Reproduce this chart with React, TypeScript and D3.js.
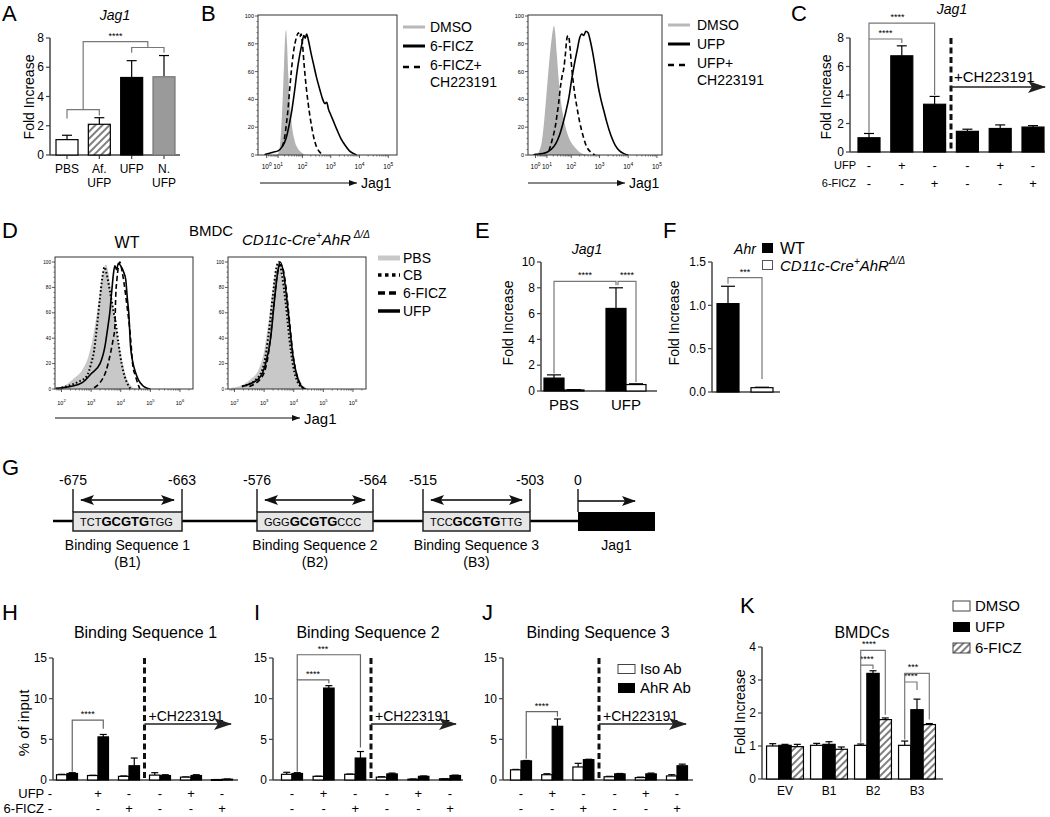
import React from 'react';
import * as d3 from 'd3';

const FONT = '"Liberation Sans", Arial, Helvetica, sans-serif';
const AX = '#444';
const BR = '#777';

// ---------- A: Jag1 fold increase ----------
const aGroups = ['PBS', 'Af. UFP', 'UFP', 'N. UFP'];
const aMean = [1.05, 2.1, 5.3, 5.35];
const aErr = [0.3, 0.45, 1.15, 1.45];
const aFill = ['#fff', 'url(#hatch)', '#000', '#9a9a9a'];

// ---------- B: flow histograms [log10 Jag1, % max] ----------
const bDmsoL = [[0.9, 0], [1.0, 1], [1.08, 5], [1.15, 18], [1.22, 40], [1.28, 65], [1.33, 85], [1.37, 90], [1.41, 80], [1.46, 58], [1.52, 38], [1.6, 22], [1.7, 11], [1.82, 5], [1.95, 2], [2.1, 0]];
const bFiczL = [[-1, 0], [-0.2, 0.5], [0.3, 1], [0.7, 2], [1.0, 3], [1.2, 6], [1.37, 12], [1.5, 22], [1.6, 32], [1.7, 45], [1.8, 60], [1.9, 72], [1.98, 80], [2.05, 86], [2.1, 84], [2.15, 87], [2.22, 82], [2.3, 74], [2.4, 65], [2.5, 56], [2.62, 47], [2.72, 40], [2.8, 37], [2.86, 38], [2.92, 33], [3.0, 29], [3.1, 24], [3.2, 19], [3.35, 12], [3.5, 7], [3.65, 3], [3.8, 1], [3.9, 0]];
const bFiczChL = [[1.2, 6], [1.3, 12], [1.38, 22], [1.45, 33], [1.52, 48], [1.58, 60], [1.65, 72], [1.72, 80], [1.8, 86], [1.85, 88], [1.9, 85], [1.95, 87], [2.0, 80], [2.06, 65], [2.12, 52], [2.2, 38], [2.3, 24], [2.4, 13], [2.5, 6], [2.62, 2], [2.75, 0]];
const bDmsoR = [[0.3, 0], [0.5, 3], [0.7, 10], [0.85, 25], [1.0, 48], [1.1, 65], [1.2, 80], [1.28, 90], [1.33, 93], [1.38, 88], [1.45, 72], [1.52, 55], [1.6, 40], [1.7, 28], [1.8, 19], [1.9, 13], [2.0, 9], [2.15, 5], [2.3, 2], [2.5, 0.5], [2.65, 0]];
const bUfpR = [[-1, 0], [0.0, 0.5], [0.7, 1], [1.0, 2], [1.2, 4], [1.4, 8], [1.55, 14], [1.68, 22], [1.8, 31], [1.92, 42], [2.02, 55], [2.12, 66], [2.22, 76], [2.3, 84], [2.38, 87], [2.45, 86], [2.52, 89], [2.6, 88], [2.68, 82], [2.76, 74], [2.85, 63], [2.95, 50], [3.05, 40], [3.15, 32], [3.25, 24], [3.4, 14], [3.55, 7], [3.7, 3], [3.85, 1], [4.0, 0]];
const bUfpChR = [[1.1, 3], [1.2, 8], [1.3, 14], [1.38, 20], [1.45, 28], [1.52, 37], [1.6, 50], [1.66, 57], [1.72, 62], [1.78, 72], [1.84, 84], [1.88, 86], [1.92, 84], [1.96, 76], [2.02, 62], [2.1, 48], [2.2, 35], [2.3, 24], [2.42, 14], [2.55, 6], [2.7, 2], [2.85, 0]];
const bExps = [0, 1, 2, 3, 4, 5];

// ---------- C ----------
const cUfp = ['-', '+', '-', '-', '+', '-'];
const cFicz = ['-', '-', '+', '-', '-', '+'];
const cMean = [1.0, 6.75, 3.35, 1.45, 1.65, 1.75];
const cErr = [0.3, 0.7, 0.55, 0.15, 0.25, 0.1];

// ---------- D: BMDC histograms ----------
const dWtPbs = [[1.8, 1], [2.2, 4], [2.4, 8], [2.7, 15], [2.9, 25], [3.07, 42], [3.23, 65], [3.33, 82], [3.43, 95], [3.5, 98], [3.58, 92], [3.68, 75], [3.78, 58], [3.88, 42], [3.98, 30], [4.08, 19], [4.18, 10], [4.3, 4], [4.42, 1], [4.55, 0]];
const dWtCb = [[2.0, 1], [2.3, 3], [2.6, 6], [2.85, 10], [3.0, 20], [3.1, 30], [3.2, 50], [3.3, 72], [3.38, 88], [3.45, 96], [3.53, 90], [3.65, 75], [3.75, 62], [3.83, 52], [3.93, 35], [4.03, 20], [4.13, 10], [4.23, 4], [4.33, 0]];
const dWtUfp = [[1.8, 0.5], [2.3, 2], [2.7, 5], [3.0, 12], [3.3, 20], [3.47, 34], [3.56, 48], [3.63, 60], [3.7, 78], [3.75, 90], [3.8, 97], [3.86, 94], [3.92, 99], [4.0, 97], [4.1, 92], [4.17, 86], [4.22, 72], [4.27, 60], [4.33, 34], [4.4, 22], [4.5, 13], [4.6, 7], [4.73, 3], [4.85, 1], [5.0, 0]];
const dWtFicz = [[3.1, 1], [3.3, 5], [3.5, 14], [3.67, 30], [3.75, 40], [3.8, 48], [3.83, 73], [3.87, 86], [3.92, 96], [3.97, 100], [4.05, 92], [4.12, 82], [4.17, 73], [4.24, 60], [4.3, 48], [4.36, 32], [4.4, 20], [4.5, 10], [4.58, 4], [4.65, 0]];
const dKoPbs = [[1.9, 1], [2.25, 3], [2.56, 8], [2.81, 15], [3.0, 30], [3.16, 55], [3.27, 75], [3.38, 92], [3.49, 100], [3.6, 92], [3.74, 70], [3.85, 50], [3.96, 30], [4.09, 15], [4.25, 5], [4.41, 1], [4.52, 0]];
const dKoCb = [[2.25, 2], [2.75, 8], [3.0, 20], [3.16, 45], [3.3, 75], [3.41, 95], [3.5, 100], [3.6, 90], [3.74, 65], [3.85, 40], [3.98, 18], [4.14, 5], [4.3, 1], [4.41, 0]];
const dKoUfp = [[2.25, 2], [2.81, 8], [3.05, 20], [3.22, 40], [3.35, 70], [3.46, 92], [3.54, 100], [3.65, 92], [3.76, 72], [3.87, 48], [3.98, 25], [4.14, 8], [4.3, 1], [4.41, 0]];
const dKoFicz = [[2.5, 2], [2.94, 10], [3.16, 30], [3.3, 60], [3.43, 88], [3.54, 98], [3.63, 95], [3.74, 80], [3.85, 55], [3.96, 30], [4.09, 12], [4.25, 3], [4.36, 0]];
const dExps = [2, 3, 4, 5, 6];

// ---------- E / F ----------
const eGroups = ['PBS', 'UFP'];
const eWt = [1.0, 6.4];
const eWtErr = [0.25, 1.6];
const eKo = [0.08, 0.5];
const eKoErr = [0.03, 0.06];
const fGroups = ['WT', 'KO'];
const fMean = [1.02, 0.05];
const fErr = [0.2, 0.005];

// ---------- G ----------
const gNames = ['Binding Sequence 1', 'Binding Sequence 2', 'Binding Sequence 3'];
const gTags = ['(B1)', '(B2)', '(B3)'];
const gStart = ['-675', '-576', '-515'];
const gEnd = ['-663', '-564', '-503'];
const gSeq = [['TCT', 'GCGTG', 'TGG'], ['GGG', 'GCGTG', 'CCC'], ['TCC', 'GCGTG', 'TTG']];

// ---------- H / I / J: ChIP, % of input ----------
const hIso = [0.65, 0.55, 0.45, 0.6, 0.35, 0.05];
const hIsoErr = [0.05, 0.03, 0.05, 0.3, 0.03, 0.01];
const hAhr = [0.8, 5.3, 1.75, 0.55, 0.55, 0.1];
const hAhrErr = [0.1, 0.3, 0.95, 0.1, 0.1, 0.02];
const iIso = [0.7, 0.45, 0.7, 0.35, 0.1, 0.15];
const iIsoErr = [0.25, 0.02, 0.03, 0.05, 0.02, 0.02];
const iAhr = [0.8, 11.3, 2.7, 0.75, 0.45, 0.55];
const iAhrErr = [0.1, 0.3, 0.8, 0.1, 0.05, 0.05];
const jIso = [1.25, 0.65, 1.6, 0.4, 0.3, 0.5];
const jIsoErr = [0.05, 0.12, 0.45, 0.05, 0.05, 0.15];
const jAhr = [2.35, 6.6, 2.5, 0.75, 0.75, 1.75];
const jAhrErr = [0.05, 0.9, 0.05, 0.05, 0.1, 0.2];

// ---------- K ----------
const kGroups = ['EV', 'B1', 'B2', 'B3'];
const kDmso = [1.0, 1.02, 1.02, 1.02];
const kDmsoErr = [0.07, 0.06, 0.04, 0.13];
const kUfp = [1.02, 1.05, 3.2, 2.1];
const kUfpErr = [0.03, 0.08, 0.08, 0.32];
const kFicz = [0.98, 0.9, 1.8, 1.65];
const kFiczErr = [0.07, 0.07, 0.05, 0.03];

// ---------- helpers ----------
function Defs() {
  return (
    <defs>
      <pattern id="hatch" patternUnits="userSpaceOnUse" width={5} height={5} patternTransform="rotate(45)">
        <rect width={5} height={5} fill="#fff" />
        <line x1={1} y1={0} x2={1} y2={5} stroke="#000" strokeWidth={1} />
      </pattern>
      <marker id="bigArrow" markerUnits="userSpaceOnUse" markerWidth={18} markerHeight={12} viewBox="0 0 18 12" refX={17} refY={6} orient="auto">
        <path d="M0,0 L18,6 L0,12 L4,6 Z" fill="#222" />
      </marker>
      <marker id="gArrow" markerUnits="userSpaceOnUse" markerWidth={14} markerHeight={10} viewBox="0 0 14 10" refX={13} refY={5} orient="auto-start-reverse">
        <path d="M0,0 L14,5 L0,10 L3,5 Z" fill="#111" />
      </marker>
      <marker id="smallArrow" markerUnits="userSpaceOnUse" markerWidth={8} markerHeight={6} viewBox="0 0 8 6" refX={8} refY={3} orient="auto">
        <path d="M0,0 L8,3 L0,6 Z" fill="#111" />
      </marker>
    </defs>
  );
}

function LeftAxis({ x, y, ticks, fs = 12, fmt = (t) => String(t), len = 4, color = AX }) {
  const [d0, d1] = y.domain();
  return (
    <g>
      <line x1={x} x2={x} y1={y(d0)} y2={y(d1)} stroke={color} strokeWidth={1.5} />
      {ticks.map((t) => (
        <g key={t}>
          <line x1={x - len} x2={x} y1={y(t)} y2={y(t)} stroke={color} strokeWidth={1.2} />
          <text x={x - len - 2} y={y(t)} dy="0.35em" textAnchor="end" fontSize={fs}>{fmt(t)}</text>
        </g>
      ))}
    </g>
  );
}

function BarErr({ cx, w, y, v, e, fill, cap, stroke = '#000' }) {
  const top = y(v);
  const base = y(0);
  const et = y(v + e);
  return (
    <g>
      {e > 0 && (
        <g stroke="#000" strokeWidth={1.2}>
          <line x1={cx} x2={cx} y1={top} y2={et} />
          <line x1={cx - cap / 2} x2={cx + cap / 2} y1={et} y2={et} />
        </g>
      )}
      <rect x={cx - w / 2} y={top} width={w} height={Math.max(0.8, base - top)} fill={fill} stroke={stroke} strokeWidth={1.2} />
    </g>
  );
}

function Bracket({ x1, x2, yl, ylev, yr, stars, sx, color = BR, fs = 9 }) {
  return (
    <g>
      <path d={`M${x1},${yl}V${ylev}H${x2}V${yr}`} fill="none" stroke={color} strokeWidth={1.2} />
      {stars && (
        <text x={sx ?? (x1 + x2) / 2} y={ylev - 3} textAnchor="middle" fontSize={fs}>{stars}</text>
      )}
    </g>
  );
}

function Pow({ x, y, e, fs }) {
  return (
    <text x={x} y={y} fontSize={fs} textAnchor="middle">
      10<tspan dy={-fs * 0.5} fontSize={fs * 0.75}>{e}</tspan>
    </text>
  );
}

function Histo({ id, x, y, top, curves, exps, fs, labelY }) {
  const [left, right] = x.range();
  const bottom = y.range()[0];
  const px = (d) => x(10 ** d[0]);
  const line = d3.line().x(px).y((d) => y(d[1])).curve(d3.curveMonotoneX);
  const area = d3.area().x(px).y0(bottom).y1((d) => y(d[1])).curve(d3.curveMonotoneX);
  const [dmin, dmax] = x.domain();
  const minors = [];
  exps.forEach((e) => {
    for (let k = 2; k <= 9; k++) {
      const v = k * 10 ** e;
      if (v > dmin && v < dmax) minors.push(v);
    }
  });
  if (exps[0] > 0) {
    for (let k = 2; k <= 9; k++) {
      const v = k * 10 ** (exps[0] - 1);
      if (v > dmin) minors.push(v);
    }
  }
  const yMajor = d3.range(0, 101, 20);
  const yMinor = d3.range(0, 101, 4).filter((v) => v % 20 !== 0);
  return (
    <g>
      <clipPath id={id}>
        <rect x={left} y={top} width={right - left} height={bottom - top} />
      </clipPath>
      <g clipPath={`url(#${id})`}>
        {curves.map((c, i) =>
          c.fill ? (
            <path key={i} d={area(c.data)} fill={c.fill} stroke="none" />
          ) : (
            <path key={i} d={line(c.data)} fill="none" stroke="#000" strokeWidth={c.w} strokeDasharray={c.dash} />
          )
        )}
      </g>
      <rect x={left} y={top} width={right - left} height={bottom - top} fill="none" stroke="#333" strokeWidth={1} />
      {exps.map((e) => (
        <g key={e}>
          <line x1={x(10 ** e)} x2={x(10 ** e)} y1={bottom} y2={bottom + 3} stroke="#333" strokeWidth={0.8} />
          <Pow x={x(10 ** e)} y={labelY} e={e} fs={fs} />
        </g>
      ))}
      {minors.map((v) => (
        <line key={v} x1={x(v)} x2={x(v)} y1={bottom} y2={bottom + 1.6} stroke="#333" strokeWidth={0.6} />
      ))}
      {yMajor.map((v) => (
        <g key={v}>
          <line x1={left - 3} x2={left} y1={y(v)} y2={y(v)} stroke="#333" strokeWidth={0.8} />
          <text x={left - 4} y={y(v)} dy="0.35em" fontSize={fs * 0.85} textAnchor="end">{v}</text>
        </g>
      ))}
      {yMinor.map((v) => (
        <line key={v} x1={left - 1.6} x2={left} y1={y(v)} y2={y(v)} stroke="#333" strokeWidth={0.6} />
      ))}
    </g>
  );
}

function LineLegend({ x, rows, fs = 14, tx }) {
  return (
    <g>
      {rows.map((r, i) => (
        <g key={i}>
          {r.sw && (
            <line x1={x} x2={x + 22} y1={r.y} y2={r.y} stroke={r.color || '#000'} strokeWidth={r.w} strokeDasharray={r.dash} />
          )}
          <text x={tx} y={r.ty ?? r.y + 5} fontSize={fs}>{r.label}</text>
        </g>
      ))}
    </g>
  );
}

// ---------- panels ----------
function PanelA() {
  const x = d3.scalePoint().domain(aGroups).range([67, 164]);
  const y = d3.scaleLinear().domain([0, 8]).range([155, 38]);
  const cx = (i) => x(aGroups[i]);
  const m01 = (cx(0) + cx(1)) / 2;
  const m23 = (cx(2) + cx(3)) / 2;
  return (
    <g>
      <text x={2} y={21} fontSize={22}>A</text>
      <text x={115} y={20} fontSize={14} fontStyle="italic" textAnchor="middle">Jag1</text>
      <text transform="translate(34,97) rotate(-90)" textAnchor="middle" fontSize={14}>Fold Increase</text>
      <LeftAxis x={50} y={y} ticks={[0, 2, 4, 6, 8]} fs={12} />
      <line x1={50} x2={180} y1={y(0)} y2={y(0)} stroke={AX} strokeWidth={1.5} />
      {aGroups.map((g, i) => (
        <g key={g}>
          <line x1={cx(i)} x2={cx(i)} y1={y(0)} y2={y(0) + 4} stroke={AX} strokeWidth={1.2} />
          <BarErr cx={cx(i)} w={22} y={y} v={aMean[i]} e={aErr[i]} fill={aFill[i]} cap={10} stroke={i === 3 ? '#777' : '#000'} />
          {g.split(' ').map((t, k) => (
            <text key={k} x={cx(i)} y={173 + k * 14} textAnchor="middle" fontSize={12}>{t}</text>
          ))}
        </g>
      ))}
      <Bracket x1={cx(0)} x2={cx(1)} yl={y(2.5)} ylev={y(3.1)} yr={y(2.7)} />
      <Bracket x1={m01} x2={m23} yl={y(3.1)} ylev={y(7.75)} yr={y(7.35)} stars="****" />
      <Bracket x1={cx(2)} x2={cx(3)} yl={y(7.0)} ylev={y(7.35)} yr={y(7.0)} />
    </g>
  );
}

function PanelB() {
  const y = d3.scaleLinear().domain([0, 100]).range([155, 16]);
  const xl = d3.scaleSymlog().constant(5).domain([-3.3, 2e5]).range([258, 397]);
  const xr = d3.scaleSymlog().constant(5).domain([-2.6, 1.5e5]).range([528, 662]);
  const gray = '#b3b3b3';
  return (
    <g>
      <text x={201} y={21} fontSize={22}>B</text>
      <Histo id="cb1" x={xl} y={y} top={15} exps={bExps} fs={6.5} labelY={169}
        curves={[{ data: bDmsoL, fill: gray }, { data: bFiczL, w: 1.6 }, { data: bFiczChL, w: 1.6, dash: '5,3' }]} />
      <Histo id="cb2" x={xr} y={y} top={15} exps={bExps} fs={6.5} labelY={169}
        curves={[{ data: bDmsoR, fill: gray }, { data: bUfpR, w: 1.6 }, { data: bUfpChR, w: 1.6, dash: '5,3' }]} />
      <line x1={260} x2={357} y1={183} y2={183} stroke="#111" strokeWidth={1} markerEnd="url(#smallArrow)" />
      <text x={361} y={188} fontSize={14}>Jag1</text>
      <line x1={528} x2={625} y1={183} y2={183} stroke="#111" strokeWidth={1} markerEnd="url(#smallArrow)" />
      <text x={629} y={188} fontSize={14}>Jag1</text>
      <LineLegend x={403} tx={430} rows={[
        { sw: true, y: 27, color: '#b8b8b8', w: 3, label: 'DMSO' },
        { sw: true, y: 46, w: 3, label: '6-FICZ' },
        { sw: true, y: 67, w: 2.5, dash: '6,5', label: '6-FICZ+', ty: 70 },
        { y: 82, label: 'CH223191', ty: 87 },
      ]} />
      <LineLegend x={668} tx={697} rows={[
        { sw: true, y: 25, color: '#b8b8b8', w: 3, label: 'DMSO' },
        { sw: true, y: 44, w: 3, label: 'UFP' },
        { sw: true, y: 65, w: 2.5, dash: '6,5', label: 'UFP+', ty: 68 },
        { y: 80, label: 'CH223191', ty: 85 },
      ]} />
    </g>
  );
}

function PanelC() {
  const ids = cMean.map((_, i) => i);
  const x = d3.scalePoint().domain(ids).range([869, 1033]);
  const y = d3.scaleLinear().domain([0, 8]).range([152, 38]);
  const dashX = (x(2) + x(3)) / 2;
  return (
    <g>
      <text x={791} y={21} fontSize={22}>C</text>
      <text x={952} y={14} fontSize={14} fontStyle="italic" textAnchor="middle">Jag1</text>
      <text transform="translate(831,97) rotate(-90)" textAnchor="middle" fontSize={14}>Fold Increase</text>
      <LeftAxis x={850} y={y} ticks={[0, 2, 4, 6, 8]} fs={12} />
      <line x1={850} x2={1045} y1={y(0)} y2={y(0)} stroke={AX} strokeWidth={1.5} />
      {ids.map((i) => (
        <g key={i}>
          <BarErr cx={x(i)} w={22} y={y} v={cMean[i]} e={cErr[i]} fill="#000" cap={10} />
          <text x={x(i)} y={170} textAnchor="middle" fontSize={13}>{cUfp[i]}</text>
          <text x={x(i)} y={188} textAnchor="middle" fontSize={13}>{cFicz[i]}</text>
        </g>
      ))}
      <text x={856} y={169} textAnchor="end" fontSize={11}>UFP</text>
      <text x={856} y={187} textAnchor="end" fontSize={11}>6-FICZ</text>
      <line x1={dashX} x2={dashX} y1={y(8)} y2={y(0)} stroke="#111" strokeWidth={3} strokeDasharray="6,3.5" />
      <text x={dashX + 3} y={82} fontSize={15}>+CH223191</text>
      <line x1={dashX} x2={1045} y1={87} y2={87} stroke="#222" strokeWidth={1.5} markerEnd="url(#bigArrow)" />
      <Bracket x1={x(0)} x2={x(1)} yl={y(1.35)} ylev={y(7.93)} yr={y(7.65)} stars="****" />
      <Bracket x1={x(0)} x2={x(2)} yl={y(7.93)} ylev={y(9.05)} yr={y(4.0)} stars="****" sx={(x(0) + x(1)) / 2 + 12} />
    </g>
  );
}

function PanelD() {
  const y = d3.scaleLinear().domain([0, 100]).range([389, 262]);
  const xl = d3.scaleLog().domain([10 ** 1.78, 10 ** 6.44]).range([55, 193]);
  const xr = d3.scaleLog().domain([10 ** 1.78, 10 ** 6.44]).range([228, 366]);
  const gray = '#c8c8c8';
  const dot = '1.6,2.2';
  const dash = '5,3';
  return (
    <g>
      <text x={2} y={238} fontSize={22}>D</text>
      <text x={211} y={236} fontSize={15} textAnchor="middle">BMDC</text>
      <text x={127} y={248} fontSize={16} textAnchor="middle">WT</text>
      <text x={242} y={245} fontSize={15} fontStyle="italic">
        CD11c-Cre<tspan dy={-6} fontSize={10}>+</tspan><tspan dy={6}>AhR</tspan><tspan dy={-7} fontSize={10}> Δ/Δ</tspan>
      </text>
      <Histo id="cd1" x={xl} y={y} top={257} exps={dExps} fs={5.5} labelY={405}
        curves={[{ data: dWtPbs, fill: gray }, { data: dWtCb, w: 2, dash: dot }, { data: dWtFicz, w: 1.6, dash }, { data: dWtUfp, w: 1.6 }]} />
      <Histo id="cd2" x={xr} y={y} top={257} exps={dExps} fs={5.5} labelY={405}
        curves={[{ data: dKoPbs, fill: gray }, { data: dKoCb, w: 2, dash: dot }, { data: dKoFicz, w: 1.6, dash }, { data: dKoUfp, w: 1.6 }]} />
      <line x1={55} x2={300} y1={418} y2={418} stroke="#111" strokeWidth={1} markerEnd="url(#smallArrow)" />
      <text x={304} y={424} fontSize={15}>Jag1</text>
      <LineLegend x={378} tx={403} fs={14} rows={[
        { sw: true, y: 258, color: gray, w: 5, label: 'PBS' },
        { sw: true, y: 275, w: 3.5, dash: '3.5,3.5', label: 'CB' },
        { sw: true, y: 293, w: 3.5, dash: '7,4', label: '6-FICZ' },
        { sw: true, y: 311, w: 3.5, label: 'UFP' },
      ]} />
    </g>
  );
}

function PanelEF() {
  const ye = d3.scaleLinear().domain([0, 10]).range([391, 262]);
  const xe = d3.scalePoint().domain(eGroups).range([564, 626]);
  const yf = d3.scaleLinear().domain([0, 1.5]).range([392, 262]);
  const xf = d3.scalePoint().domain(fGroups).range([728, 762]);
  const wt = (g) => xe(g) - 10;
  const ko = (g) => xe(g) + 10;
  return (
    <g>
      <text x={475} y={238} fontSize={22}>E</text>
      <text x={587} y={254} fontSize={14} fontStyle="italic" textAnchor="middle">Jag1</text>
      <text transform="translate(513,323) rotate(-90)" textAnchor="middle" fontSize={14}>Fold Increase</text>
      <LeftAxis x={541} y={ye} ticks={[0, 2, 4, 6, 8, 10]} fs={12} />
      <line x1={541} x2={657} y1={ye(0)} y2={ye(0)} stroke={AX} strokeWidth={1.5} />
      {eGroups.map((g, i) => (
        <g key={g}>
          <BarErr cx={wt(g)} w={20} y={ye} v={eWt[i]} e={eWtErr[i]} fill="#000" cap={14} />
          <BarErr cx={ko(g)} w={20} y={ye} v={eKo[i]} e={eKoErr[i]} fill="#fff" cap={14} />
          <text x={xe(g)} y={410} textAnchor="middle" fontSize={15}>{g}</text>
        </g>
      ))}
      <Bracket x1={wt('PBS')} x2={wt('UFP')} yl={ye(1.35)} ylev={ye(8.5)} yr={ye(8.2)} stars="****" />
      <Bracket x1={wt('UFP') + 2} x2={ko('UFP')} yl={ye(8.2)} ylev={ye(8.5)} yr={ye(0.7)} stars="****" />

      <text x={663} y={238} fontSize={22}>F</text>
      <text x={745} y={254} fontSize={14} fontStyle="italic" textAnchor="middle">Ahr</text>
      <text transform="translate(679,323) rotate(-90)" textAnchor="middle" fontSize={14}>Fold Increase</text>
      <LeftAxis x={712} y={yf} ticks={[0, 0.5, 1, 1.5]} fmt={(t) => t.toFixed(1)} fs={12} />
      <line x1={712} x2={780} y1={yf(0)} y2={yf(0)} stroke={AX} strokeWidth={1.5} />
      {fGroups.map((g, i) => (
        <BarErr key={g} cx={xf(g)} w={22} y={yf} v={fMean[i]} e={fErr[i]} fill={i === 0 ? '#000' : '#fff'} cap={14} />
      ))}
      <Bracket x1={xf('WT')} x2={xf('KO')} yl={yf(1.25)} ylev={yf(1.32)} yr={yf(0.15)} stars="***" />

      <rect x={762} y={243} width={11} height={10} fill="#000" />
      <text x={780} y={254} fontSize={16}>WT</text>
      <rect x={762.5} y={260.5} width={10} height={9} fill="#fff" stroke="#555" strokeWidth={1} />
      <text x={780} y={271} fontSize={15} fontStyle="italic">
        CD11c-Cre<tspan dy={-6} fontSize={10}>+</tspan><tspan dy={6}>AhR</tspan><tspan dy={-7} fontSize={10}>Δ/Δ</tspan>
      </text>
    </g>
  );
}

function PanelG() {
  const lineY = 521;
  const boxL = d3.scaleOrdinal().domain(gNames).range([73, 257, 423]);
  const boxR = d3.scaleOrdinal().domain(gNames).range([182, 373, 530]);
  const tss = 578;
  const geneEnd = 655;
  return (
    <g>
      <text x={2} y={475} fontSize={22}>G</text>
      <line x1={53} x2={tss} y1={lineY} y2={lineY} stroke="#000" strokeWidth={2.5} />
      {gNames.map((n, i) => {
        const l = boxL(n);
        const r = boxR(n);
        return (
          <g key={n}>
            <line x1={l} x2={l} y1={489} y2={512} stroke="#000" strokeWidth={1.3} />
            <line x1={r} x2={r} y1={489} y2={512} stroke="#000" strokeWidth={1.3} />
            <line x1={l + 8} x2={r - 8} y1={500} y2={500} stroke="#000" strokeWidth={1.5} markerStart="url(#gArrow)" markerEnd="url(#gArrow)" />
            <text x={l} y={485} fontSize={14} textAnchor="middle">{gStart[i]}</text>
            <text x={r} y={485} fontSize={14} textAnchor="middle">{gEnd[i]}</text>
            <rect x={l} y={512} width={r - l} height={19} fill="#e6e6e6" stroke="#222" strokeWidth={1.5} />
            <text x={l + 7} y={526} fontSize={11}>
              {gSeq[i][0]}<tspan fontWeight="bold" fontSize={13}>{gSeq[i][1]}</tspan>{gSeq[i][2]}
            </text>
            <text x={(l + r) / 2} y={550} fontSize={14} textAnchor="middle">{n}</text>
            <text x={(l + r) / 2} y={567} fontSize={14} textAnchor="middle">{gTags[i]}</text>
          </g>
        );
      })}
      <rect x={tss} y={512} width={geneEnd - tss} height={19} fill="#000" />
      <line x1={tss} x2={tss} y1={489} y2={512} stroke="#000" strokeWidth={1.3} />
      <line x1={tss} x2={635} y1={501} y2={501} stroke="#000" strokeWidth={1.5} markerEnd="url(#gArrow)" />
      <text x={tss} y={485} fontSize={14} textAnchor="middle">0</text>
      <text x={(tss + geneEnd) / 2} y={550} fontSize={14} textAnchor="middle">Jag1</text>
    </g>
  );
}

function ChipPanel({ letter, letterX, title, axisX, first, last, axisEnd, iso, isoErr, ahr, ahrErr, brackets, yLabel, rowLabels, legend }) {
  const y = d3.scaleLinear().domain([0, 15]).range([780, 658]);
  const ids = iso.map((_, i) => i);
  const x = d3.scalePoint().domain(ids).range([first, last]);
  const bw = 10.5;
  const dashX = (x(2) + x(3)) / 2;
  const blk = (i) => x(i) + bw / 2;
  const signIds = rowLabels ? ids.slice(1) : ids;
  return (
    <g>
      <text x={letterX} y={620} fontSize={22}>{letter}</text>
      <text x={(axisX + axisEnd) / 2} y={638} fontSize={16} textAnchor="middle">{title}</text>
      {yLabel && <text transform={`translate(${axisX - 24},723) rotate(-90)`} textAnchor="middle" fontSize={15}>{yLabel}</text>}
      <LeftAxis x={axisX} y={y} ticks={[0, 5, 10, 15]} fs={12} />
      <line x1={axisX} x2={axisEnd} y1={y(0)} y2={y(0)} stroke={AX} strokeWidth={1.5} />
      {ids.map((i) => (
        <g key={i}>
          <BarErr cx={x(i) - bw / 2} w={bw} y={y} v={iso[i]} e={isoErr[i]} fill="#fff" cap={7} />
          <BarErr cx={blk(i)} w={bw} y={y} v={ahr[i]} e={ahrErr[i]} fill="#000" cap={7} />
        </g>
      ))}
      {signIds.map((i) => (
        <g key={i}>
          <text x={x(i)} y={798} fontSize={13} textAnchor="middle">{cUfp[i]}</text>
          <text x={x(i)} y={813} fontSize={13} textAnchor="middle">{cFicz[i]}</text>
        </g>
      ))}
      {rowLabels && (
        <g>
          <text x={axisX - 1} y={798} fontSize={13} textAnchor="end">UFP {cUfp[0]}</text>
          <text x={axisX - 1} y={813} fontSize={13} textAnchor="end">6-FICZ {cFicz[0]}</text>
        </g>
      )}
      <line x1={dashX} x2={dashX} y1={y(15)} y2={y(0)} stroke="#111" strokeWidth={3} strokeDasharray="6,3.5" />
      <text x={dashX + 4} y={721} fontSize={14}>+CH223191</text>
      <line x1={dashX} x2={axisEnd - 7} y1={724} y2={724} stroke="#222" strokeWidth={1.5} markerEnd="url(#bigArrow)" />
      {brackets.map((b, k) => (
        <Bracket key={k} x1={blk(b.a)} x2={blk(b.b)} yl={y(b.dl)} ylev={y(b.lev)} yr={y(b.dr)} stars={b.stars} color="#666" sx={b.sx} />
      ))}
      {legend && (
        <g>
          <rect x={618} y={664.5} width={17} height={9} fill="#fff" stroke="#444" strokeWidth={1} />
          <text x={640} y={674} fontSize={15}>Iso Ab</text>
          <rect x={618} y={683} width={17} height={10} fill="#000" />
          <text x={640} y={693} fontSize={15}>AhR Ab</text>
        </g>
      )}
    </g>
  );
}

function PanelK() {
  const y = d3.scaleLinear().domain([0, 4]).range([779, 647]);
  const x = d3.scalePoint().domain(kGroups).range([785, 917]);
  const bw = 12.3;
  const series = [
    { v: kDmso, e: kDmsoErr, fill: '#fff' },
    { v: kUfp, e: kUfpErr, fill: '#000' },
    { v: kFicz, e: kFiczErr, fill: 'url(#hatch)' },
  ];
  const bx = (g, s) => x(g) + (s - 1) * bw;
  return (
    <g>
      <text x={740} y={613} fontSize={22}>K</text>
      <text x={862} y={638} fontSize={16} textAnchor="middle">BMDCs</text>
      <text transform="translate(745,712) rotate(-90)" textAnchor="middle" fontSize={14}>Fold Increase</text>
      <LeftAxis x={762} y={y} ticks={[0, 1, 2, 3, 4]} fs={12} />
      <line x1={762} x2={943} y1={y(0)} y2={y(0)} stroke={AX} strokeWidth={1.5} />
      {kGroups.map((g, i) => (
        <g key={g}>
          {series.map((s, k) => (
            <BarErr key={k} cx={bx(g, k)} w={bw} y={y} v={s.v[i]} e={s.e[i]} fill={s.fill} cap={7} />
          ))}
          <text x={x(g)} y={795} fontSize={12} textAnchor="middle">{g}</text>
        </g>
      ))}
      <Bracket x1={bx('B2', 0)} x2={bx('B2', 1)} yl={y(1.1)} ylev={y(3.45)} yr={y(3.33)} stars="****" />
      <Bracket x1={bx('B2', 0)} x2={bx('B2', 2)} yl={y(3.45)} ylev={y(3.9)} yr={y(1.95)} stars="****" sx={bx('B2', 1) - 4} />
      <Bracket x1={bx('B3', 0)} x2={bx('B3', 1)} yl={y(1.2)} ylev={y(2.94)} yr={y(2.7)} stars="****" />
      <Bracket x1={bx('B3', 0)} x2={bx('B3', 2)} yl={y(2.94)} ylev={y(3.2)} yr={y(1.8)} stars="***" sx={bx('B3', 1) - 4} />
      <rect x={953} y={601} width={17} height={10} fill="#fff" stroke="#444" strokeWidth={1} />
      <text x={975} y={611} fontSize={15}>DMSO</text>
      <rect x={953} y={622} width={17} height={10} fill="#000" />
      <text x={975} y={632} fontSize={15}>UFP</text>
      <rect x={953} y={643} width={17} height={10} fill="url(#hatch)" stroke="#444" strokeWidth={1} />
      <text x={975} y={653} fontSize={15}>6-FICZ</text>
    </g>
  );
}

export default function App() {
  return (
    <svg width={1050} height={817} viewBox="0 0 1050 817"
      style={{ position: 'absolute', left: 0, top: 0, background: '#fff', fontFamily: FONT }}>
      <Defs />
      <PanelA />
      <PanelB />
      <PanelC />
      <PanelD />
      <PanelEF />
      <PanelG />
      <ChipPanel letter="H" letterX={2} title="Binding Sequence 1" axisX={53} first={67} last={222} axisEnd={238}
        iso={hIso} isoErr={hIsoErr} ahr={hAhr} ahrErr={hAhrErr} yLabel="% of input" rowLabels
        brackets={[{ a: 0, b: 1, lev: 7.35, dl: 1.0, dr: 6.3, stars: '****' }]} />
      <ChipPanel letter="I" letterX={254} title="Binding Sequence 2" axisX={273} first={292} last={450} axisEnd={463}
        iso={iIso} isoErr={iIsoErr} ahr={iAhr} ahrErr={iAhrErr}
        brackets={[
          { a: 0, b: 1, lev: 12.3, dl: 1.0, dr: 11.9, stars: '****' },
          { a: 0, b: 2, lev: 15.4, dl: 12.3, dr: 4.0, stars: '***', sx: 323 },
        ]} />
      <ChipPanel letter="J" letterX={482} title="Binding Sequence 3" axisX={503} first={521} last={677} axisEnd={693}
        iso={jIso} isoErr={jIsoErr} ahr={jAhr} ahrErr={jAhrErr} legend
        brackets={[{ a: 0, b: 1, lev: 8.4, dl: 2.6, dr: 7.8, stars: '****' }]} />
      <PanelK />
    </svg>
  );
}
